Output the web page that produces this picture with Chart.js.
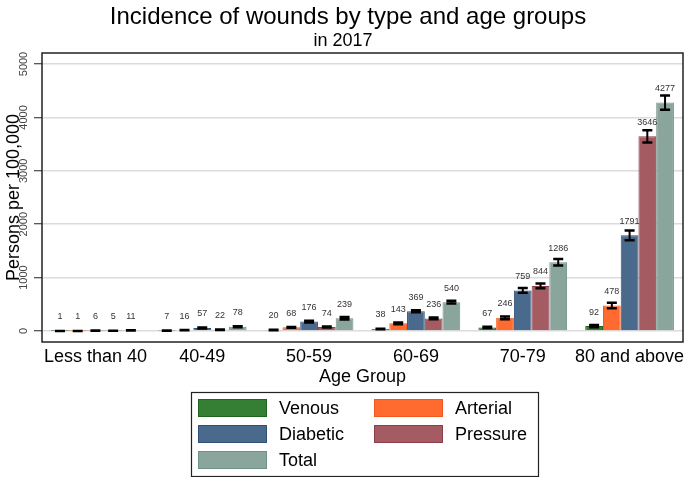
<!DOCTYPE html>
<html><head><meta charset="utf-8">
<script src="https://cdn.jsdelivr.net/npm/chart.js@4/dist/chart.umd.min.js"></script>
<style>html,body{margin:0;padding:0;background:#fff}#wrap{width:689px;height:477px;position:relative}</style>
</head><body><div id="wrap"><canvas id="c" width="689" height="477"></canvas></div>
<script>
const categories = ["Less than 40", "40-49", "50-59", "60-69", "70-79", "80 and above"];
const seriesNames = ["Venous", "Arterial", "Diabetic", "Pressure", "Total"];
const venous   = [1, 7, 20, 38, 67, 92];
const arterial = [1, 16, 68, 143, 246, 478];
const diabetic = [6, 57, 176, 369, 759, 1791];
const pressure = [5, 22, 74, 236, 844, 3646];
const total    = [11, 78, 239, 540, 1286, 4277];
const venousErr   = [1, 2, 4, 6, 12, 20];
const arterialErr = [1, 3, 8, 15, 25, 50];
const diabeticErr = [2, 8, 18, 20, 45, 90];
const pressureErr = [1, 4, 10, 15, 45, 115];
const totalErr    = [2, 10, 22, 25, 60, 135];
const yTicks = [0, 1000, 2000, 3000, 4000, 5000];
const titleText = "Incidence of wounds by type and age groups";
const subtitleText = "in 2017";
const xTitle = "Age Group";
const yTitle = "Persons per 100,000";

const FONT = "'Liberation Sans', Arial, Helvetica, sans-serif";
const fills   = ["#357f34", "#ff6a2f", "#4a6a8d", "#a55b62", "#8aa69c"];
const borders = ["#1d6420", "#f05a20", "#2f5078", "#8c3f4a", "#6f9186"];
const values = [venous, arterial, diabetic, pressure, total];
const errs = [venousErr, arterialErr, diabeticErr, pressureErr, totalErr];

const datasets = seriesNames.map((n, i) => ({
  label: n,
  data: values[i],
  errors: errs[i],
  backgroundColor: fills[i],
  borderColor: borders[i],
  borderWidth: 1,
  categoryPercentage: 0.83,
  barPercentage: 1.0
}));

const extras = {
  id: 'extras',
  afterDatasetsDraw(chart) {
    const ctx = chart.ctx;
    const y = chart.scales.y;
    const ca = chart.chartArea;
    ctx.save();
    chart.data.datasets.forEach((ds, i) => {
      const meta = chart.getDatasetMeta(i);
      meta.data.forEach((el, j) => {
        const v = ds.data[j], e = ds.errors[j];
        const yt = y.getPixelForValue(v + e), yb = y.getPixelForValue(v - e);
        ctx.strokeStyle = '#000';
        ctx.lineWidth = 2;
        ctx.beginPath();
        ctx.moveTo(el.x, yt); ctx.lineTo(el.x, yb);
        ctx.stroke();
        ctx.lineWidth = 2.5;
        ctx.beginPath();
        ctx.moveTo(el.x - 5, yt); ctx.lineTo(el.x + 5, yt);
        ctx.moveTo(el.x - 5, yb); ctx.lineTo(el.x + 5, yb);
        ctx.stroke();
        ctx.fillStyle = '#333';
        ctx.font = "9px " + FONT;
        ctx.textAlign = 'center';
        ctx.textBaseline = 'middle';
        ctx.fillText(String(v), el.x, el.y - 14);
      });
    });
    ctx.strokeStyle = '#222';
    ctx.lineWidth = 1.5;
    ctx.strokeRect(ca.left, ca.top, ca.right - ca.left, ca.bottom - ca.top);
    ctx.fillStyle = '#444';
    ctx.font = "11px " + FONT;
    ctx.textAlign = 'center';
    ctx.textBaseline = 'middle';
    y.ticks.forEach(t => {
      const py = y.getPixelForValue(t.value);
      ctx.save();
      ctx.translate(24, py);
      ctx.rotate(-Math.PI / 2);
      ctx.fillText(String(t.value), 0, 0);
      ctx.restore();
    });
    ctx.restore();
  },
  afterDraw(chart) {
    const ctx = chart.ctx;
    ctx.save();
    ctx.fillStyle = '#000';
    ctx.textAlign = 'center';
    ctx.textBaseline = 'middle';
    ctx.font = "24px " + FONT;
    ctx.fillText(titleText, 348, 17);
    ctx.font = "18px " + FONT;
    ctx.fillText(subtitleText, 343, 41);
    const bx = 191, by = 392, bw = 347, bh = 84;
    ctx.fillStyle = '#fff';
    ctx.fillRect(bx, by, bw, bh);
    ctx.strokeStyle = '#222';
    ctx.lineWidth = 1.2;
    ctx.strokeRect(bx + 0.5, by + 0.5, bw, bh);
    const cols = [198, 374];
    const rows = [408, 434, 460];
    ctx.font = "18px " + FONT;
    ctx.textAlign = 'left';
    chart.data.datasets.forEach((ds, i) => {
      const c = i % 2, r = Math.floor(i / 2);
      const sx = cols[c], sy = rows[r];
      ctx.fillStyle = ds.backgroundColor;
      ctx.fillRect(sx, sy - 9, 69, 18);
      ctx.strokeStyle = ds.borderColor;
      ctx.lineWidth = 1;
      ctx.strokeRect(sx + 0.5, sy - 8.5, 68, 17);
      ctx.fillStyle = '#000';
      ctx.fillText(ds.label, sx + 81, sy + 1);
    });
    ctx.restore();
  }
};

new Chart(document.getElementById('c'), {
  type: 'bar',
  data: { labels: categories, datasets },
  options: {
    responsive: false,
    devicePixelRatio: 1,
    animation: false,
    layout: { padding: { top: 53, left: 0, right: 6, bottom: 89 } },
    plugins: { legend: { display: false }, title: { display: false }, tooltip: { enabled: false } },
    scales: {
      x: {
        grid: { display: false, drawTicks: false },
        border: { display: false },
        ticks: { color: '#000', font: { family: FONT, size: 18 }, padding: 4, maxRotation: 0, autoSkip: false },
        title: { display: true, text: xTitle, color: '#000', font: { family: FONT, size: 18 }, padding: 0 },
        afterFit(s) { s.height = 46; }
      },
      y: {
        min: -206, max: 5206,
        afterBuildTicks(s) { s.ticks = yTicks.map(v => ({ value: v })); },
        grid: { color: '#dcdcdc', lineWidth: 1.5, drawTicks: true, tickLength: 8, tickColor: '#222', tickWidth: 1 },
        border: { display: false },
        ticks: { display: false },
        title: { display: true, text: yTitle, color: '#000', font: { family: FONT, size: 18 }, padding: { top: 3, bottom: 0 } },
        afterFit(s) { s.width = 42; }
      }
    }
  },
  plugins: [extras]
});
</script>
</body></html>
